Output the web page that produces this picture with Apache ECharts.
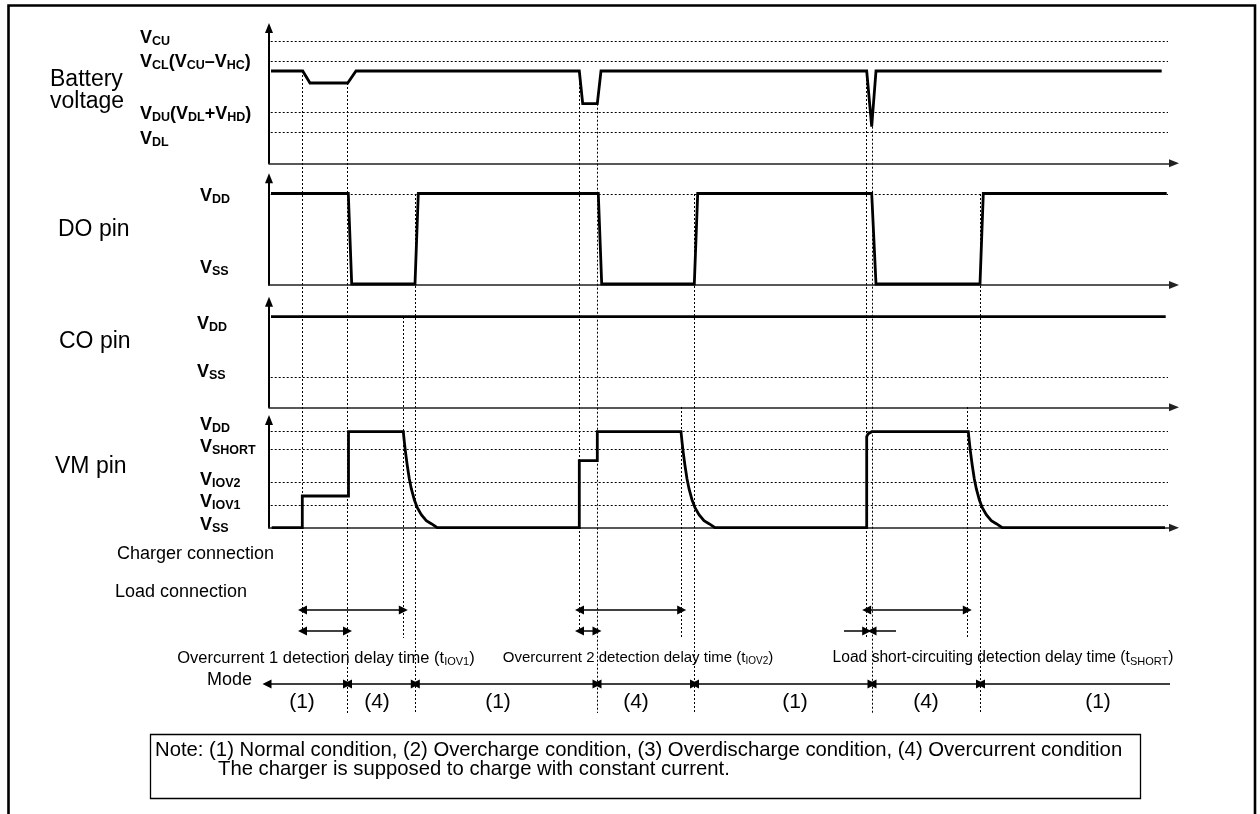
<!DOCTYPE html>
<html><head><meta charset="utf-8">
<script src="https://cdn.jsdelivr.net/npm/echarts@6/dist/echarts.min.js"></script>
<style>html,body{margin:0;padding:0;background:#fff}#c{width:1260px;height:814px}</style>
</head><body><div id="c"></div>
<script>
// ================= DATA (time axis in arbitrary units, levels in arbitrary units) =================
// Battery voltage
const battTimes  = [2, 33.7, 41, 78.7, 87, 310.3, 313.7, 328.3, 332, 597.7, 602.7, 607, 892.7];
const battValues = [92.3, 92.3, 80.3, 80.3, 92.3, 92.3, 59.6, 59.6, 92.3, 92.3, 36.6, 92.3, 92.3];
const battLevels = [122.3, 101.6, 51, 31];
const battLabels = ['V_{CU}', 'V_{CL}(V_{CU}–V_{HC})', 'V_{DU}(V_{DL}+V_{HD})', 'V_{DL}'];

// DO pin
const doTimes  = [2, 79.3, 82.7, 146, 149.3, 329.3, 332.7, 425.3, 428.7, 602.7, 607, 711, 714.3, 897.7];
const doValues = [91.5, 91.5, 1, 1, 91.5, 91.5, 1, 1, 91.5, 91.5, 1, 1, 91.5, 91.5];
const doLevels = [91, 0];
const doLabels = ['V_{DD}', 'V_{SS}'];

// CO pin
const coTimes  = [2, 896.7];
const coValues = [90.6, 90.6];
const coLevels = [90.6, 30];
const coLabels = ['V_{DD}', 'V_{SS}'];

// VM pin
const vmTimes = [2.7, 33.3, 33.3, 79.5, 79.5,
  134.3, 135.3, 136.3, 138.3, 140.3, 142.3, 145.3, 148.3, 152.3, 157.3, 162.3, 168.3,
  310.3, 310.3, 328.3, 328.3,
  412, 413, 414, 416, 418, 420, 423, 426, 430, 435, 440, 446,
  597.7, 597.7, 599.2, 602.7,
  699.3, 700.3, 701.3, 703.3, 705.3, 707.3, 710.3, 713.3, 717.3, 722.3, 727.3, 733.3,
  896];
const vmValues = [0, 0, 31.7, 31.7, 96,
  96, 86, 77, 62, 49, 39, 28, 20, 13, 7, 4, 0,
  0, 67, 67, 96,
  96, 86, 77, 62, 49, 39, 28, 20, 13, 7, 4, 0,
  0, 91, 94, 96,
  96, 86, 77, 62, 49, 39, 28, 20, 13, 7, 4, 0,
  0];
const vmLevels = [96, 78.4, 45.4, 22.7, 0];
const vmLabels = ['V_{DD}', 'V_{SHORT}', 'V_{IOV2}', 'V_{IOV1}', 'V_{SS}'];

// Event guide lines (time) and the page rows they run between
const guideTimes  = [33.5, 78.5, 134.3, 146.3, 310.5, 328, 412.7, 425.5, 597.7, 603, 698.3, 711.5];
const guideTop    = [71, 83, 317, 194, 71, 103.7, 407, 194, 71, 126.7, 407, 194];
const guideBottom = [635, 713, 638, 713, 635, 713, 638, 713, 638, 713, 638, 713];

// Delay-time spans
const delayLong  = [[33.5, 134.3], [310.5, 412.7], [597.7, 698.3]];
const delayShort = [[33.5, 78.5], [310.5, 328]];
const delayPointIn = [[575, 597.7], [627, 603]];
const delayTexts = ['Overcurrent 1 detection delay time (t_{IOV1})',
                    'Overcurrent 2 detection delay time (t_{IOV2})',
                    'Load short-circuiting detection delay time (t_{SHORT})'];
const delayTextTimes = [57, 369, 734];

// Mode row
const modeEdges = [-2, 78.5, 146.3, 328, 425.5, 603, 711.5, 901];
const modeLabels = ['(1)', '(4)', '(1)', '(4)', '(1)', '(4)', '(1)'];
const modeLabelTimes = [33, 108, 229, 367, 526, 657, 829];

// ================= LAYOUT =================
const FONT = '"Liberation Sans", Arial, Helvetica, sans-serif';
const X0 = 269, XW = 905, TMAX = 905;
const ROW_LONG = 610, ROW_SHORT = 631, ROW_TEXT = 658, ROW_MODE = 684, ROW_MODE_LABEL = 702;
const battLabelShift = [-3, 0, 2, 7];
const doLabelShift = [2, -17];
const coLabelShift = [7, -5.6];
const vmLabelShift = [-6.5, -2.5, -2, -3, -3];
const delayTextSize = [16.5, 15, 15.6];

function toRich(label, m, s) {
  const parts = []; const re = /_\{([^}]*)\}/g; let last = 0, r;
  while ((r = re.exec(label))) {
    if (r.index > last) parts.push('{' + m + '|' + label.slice(last, r.index) + '}');
    parts.push('{' + s + '|' + r[1] + '}');
    last = re.lastIndex;
  }
  if (last < label.length) parts.push('{' + m + '|' + label.slice(last) + '}');
  return parts.join('');
}
const zip = (a, b) => a.map((v, i) => [v, b[i]]);
const dotted = { color: '#000', width: 1, type: [2, 2] };

const grids = [
  { left: X0, width: XW, top: 28, height: 135.3 },
  { left: X0, width: XW, top: 178.3, height: 106.7 },
  { left: X0, width: XW, top: 301.7, height: 105.6 },
  { left: X0, width: XW, top: 420, height: 107.7 },
  { left: X0, width: XW, top: 0, height: 814 }
].map(g => Object.assign(g, { outerBoundsMode: 'none', containLabel: false }));

function xAxisFor(gi) {
  return { type: 'value', gridIndex: gi, min: 0, max: TMAX,
    axisLine: { show: true, onZero: false, symbol: ['none', 'triangle'], symbolSize: [8, 10], lineStyle: { color: '#222', width: 1.5 } },
    axisTick: { show: false }, axisLabel: { show: false }, splitLine: { show: false } };
}
function yAxisFor(gi, max, levels, labels, shift, margin) {
  const custom = levels.map((v, i) => v - shift[i]);
  return { type: 'value', gridIndex: gi, min: 0, max: max,
    axisLine: { show: true, onZero: false, symbol: ['none', 'triangle'], symbolSize: [8, 10], lineStyle: { color: '#000', width: 2 } },
    axisTick: { show: false }, splitLine: { show: false },
    axisLabel: { show: true, customValues: custom, align: 'left', margin: margin, verticalAlign: 'middle',
      hideOverlap: false, showMinLabel: true, showMaxLabel: true,
      formatter: (val) => { const i = custom.findIndex(c => Math.abs(c - val) < 1e-6); return i < 0 ? '' : toRich(labels[i], 'm', 's'); },
      rich: {
        m: { fontFamily: FONT, fontSize: 18, fontWeight: 'bold', color: '#000', lineHeight: 20 },
        s: { fontFamily: FONT, fontSize: 12.5, fontWeight: 'bold', color: '#000', lineHeight: 12, verticalAlign: 'bottom' }
      } } };
}
function signal(gi, times, values, levels) {
  return { type: 'line', xAxisIndex: gi, yAxisIndex: gi, data: zip(times, values), showSymbol: false, symbol: 'none',
    lineStyle: { color: '#000', width: 2.8, join: 'miter' }, z: 5, animation: false,
    markLine: { silent: true, symbol: 'none', label: { show: false }, lineStyle: dotted, animation: false,
      data: levels.filter(v => v > 0).map(v => [{ coord: [1.7, v] }, { coord: [899, v] }]) } };
}
function arrows(data, symbol) {
  return { type: 'lines', coordinateSystem: 'cartesian2d', xAxisIndex: 4, yAxisIndex: 4, clip: false,
    symbol: symbol, symbolSize: 9, symbolOffset: [0, 4.5], lineStyle: { color: '#000', width: 1.5, opacity: 1 },
    data: data, z: 6, animation: false, silent: true };
}
function textSeries(texts, times, row, sizes) {
  return { type: 'custom', xAxisIndex: 4, yAxisIndex: 4, silent: true, z: 7, animation: false, clip: false,
    data: times.map(t => [t, row]),
    renderItem: (params, api) => {
      const p = api.coord([api.value(0), api.value(1)]);
      const fs = sizes[params.dataIndex];
      return { type: 'text', x: p[0], y: p[1], style: {
        text: toRich(texts[params.dataIndex], 'm', 's'), align: 'center', verticalAlign: 'middle', fill: '#000',
        rich: {
          m: { fontFamily: FONT, fontSize: fs, fill: '#000', lineHeight: Math.round(fs * 1.15) },
          s: { fontFamily: FONT, fontSize: Math.round(fs * 0.68), fill: '#000', lineHeight: Math.round(fs * 0.7), verticalAlign: 'bottom' }
        } } };
    } };
}

const option = {
  animation: false,
  backgroundColor: '#fff',
  grid: grids,
  xAxis: [xAxisFor(0), xAxisFor(1), xAxisFor(2), xAxisFor(3),
    { type: 'value', gridIndex: 4, min: 0, max: TMAX, show: false }],
  yAxis: [
    yAxisFor(0, 135.3, battLevels, battLabels, battLabelShift, 129),
    yAxisFor(1, 106.7, doLevels, doLabels, doLabelShift, 69),
    yAxisFor(2, 105.6, coLevels, coLabels, coLabelShift, 72),
    yAxisFor(3, 107.7, vmLevels, vmLabels, vmLabelShift, 69),
    { type: 'value', gridIndex: 4, min: 0, max: 814, inverse: true, show: false }
  ],
  series: [
    signal(0, battTimes, battValues, battLevels),
    signal(1, doTimes, doValues, doLevels),
    signal(2, coTimes, coValues, coLevels.slice(1)),
    signal(3, vmTimes, vmValues, vmLevels),
    { type: 'lines', coordinateSystem: 'cartesian2d', xAxisIndex: 4, yAxisIndex: 4, clip: false, silent: true,
      lineStyle: Object.assign({ opacity: 1 }, dotted), z: 2, animation: false,
      data: guideTimes.map((t, i) => ({ coords: [[t, guideTop[i]], [t, guideBottom[i]]] })) },
    arrows(delayLong.map(d => ({ coords: [[d[0], ROW_LONG], [d[1], ROW_LONG]] })), ['triangle', 'triangle']),
    arrows(delayShort.map(d => ({ coords: [[d[0], ROW_SHORT], [d[1], ROW_SHORT]] })), ['triangle', 'triangle']),
    arrows(delayPointIn.map(d => ({ coords: [[d[0], ROW_SHORT], [d[1], ROW_SHORT]] })), ['none', 'triangle']),
    arrows(modeEdges.slice(0, -2).map((e, i) => ({ coords: [[e, ROW_MODE], [modeEdges[i + 1], ROW_MODE]] })), ['triangle', 'triangle']),
    arrows([{ coords: [[modeEdges[modeEdges.length - 2], ROW_MODE], [modeEdges[modeEdges.length - 1], ROW_MODE]] }], ['triangle', 'none']),
    textSeries(modeLabels, modeLabelTimes, ROW_MODE_LABEL, modeLabels.map(() => 21)),
    textSeries(delayTexts, delayTextTimes, ROW_TEXT, delayTextSize)
  ],
  graphic: [
    { type: 'polyline', shape: { points: [[8.5, 820], [8.5, 5.5], [1255, 5.5], [1255, 820]] }, style: { stroke: '#000', lineWidth: 2.6, fill: null }, silent: true },
    { type: 'text', x: 50, y: 80, style: { text: 'Battery', font: '23px ' + FONT, fill: '#000', verticalAlign: 'middle' } },
    { type: 'text', x: 50, y: 102, style: { text: 'voltage', font: '23px ' + FONT, fill: '#000', verticalAlign: 'middle' } },
    { type: 'text', x: 58, y: 230, style: { text: 'DO pin', font: '23px ' + FONT, fill: '#000', verticalAlign: 'middle' } },
    { type: 'text', x: 59, y: 342, style: { text: 'CO pin', font: '23px ' + FONT, fill: '#000', verticalAlign: 'middle' } },
    { type: 'text', x: 55, y: 467, style: { text: 'VM pin', font: '23px ' + FONT, fill: '#000', verticalAlign: 'middle' } },
    { type: 'text', x: 117, y: 554, style: { text: 'Charger connection', font: '18px ' + FONT, fill: '#000', verticalAlign: 'middle' } },
    { type: 'text', x: 115, y: 592, style: { text: 'Load connection', font: '18px ' + FONT, fill: '#000', verticalAlign: 'middle' } },
    { type: 'text', x: 207, y: 680, style: { text: 'Mode', font: '18px ' + FONT, fill: '#000', verticalAlign: 'middle' } },
    { type: 'rect', shape: { x: 150.5, y: 734.5, width: 990, height: 64 }, style: { fill: '#fff', stroke: '#000', lineWidth: 1.3 }, silent: true },
    { type: 'text', x: 155, y: 750, style: { text: 'Note: (1) Normal condition, (2) Overcharge condition, (3) Overdischarge condition, (4) Overcurrent condition', font: '20.3px ' + FONT, fill: '#000', verticalAlign: 'middle' } },
    { type: 'text', x: 218, y: 769, style: { text: 'The charger is supposed to charge with constant current.', font: '20.3px ' + FONT, fill: '#000', verticalAlign: 'middle' } }
  ]
};
const chart = echarts.init(document.getElementById('c'), null, { renderer: 'canvas' });
chart.setOption(option);
</script>
</body></html>
